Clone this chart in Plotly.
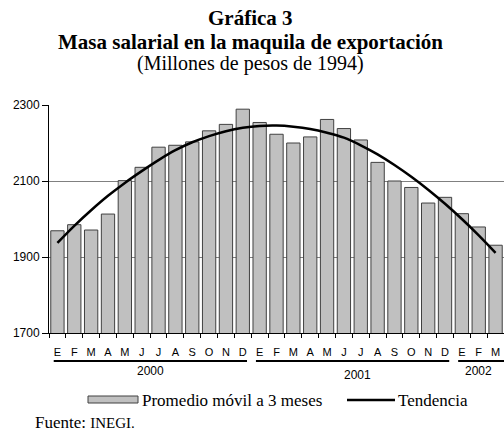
import plotly.graph_objects as go

# ---- data ----
months = ["E", "F", "M", "A", "M", "J", "J", "A", "S", "O", "N", "D",
          "E", "F", "M", "A", "M", "J", "J", "A", "S", "O", "N", "D",
          "E", "F", "M"]
years = [2000] * 12 + [2001] * 12 + [2002] * 3
promedio = [1969, 1985, 1971, 2013, 2101, 2136, 2189, 2194, 2203, 2232, 2249, 2289,
            2254, 2223, 2200, 2216, 2262, 2238, 2208, 2149, 2100, 2083, 2042, 2057,
            2014, 1979, 1931]
tendencia = [1937, 1982, 2023, 2061, 2095, 2126, 2155, 2181, 2202, 2218, 2231, 2240,
             2245, 2246, 2243, 2237, 2227, 2214, 2194, 2170, 2142, 2111, 2077, 2040,
             2000, 1957, 1911]
y_ticks = [1700, 1900, 2100, 2300]

W, H = 504, 433
L, R, T, B = 49, 504, 105, 333


def px(x):
    return (x - L) / (R - L)


def py(y):
    return (B - y) / (B - T)


idx = list(range(len(months)))
SERIF = "Liberation Serif, Times New Roman, serif"
SANS = "Liberation Sans, Arial, sans-serif"

fig = go.Figure()
fig.add_trace(go.Bar(x=idx, y=promedio, marker=dict(color="#c0c0c0",
                     line=dict(color="#404040", width=1)), showlegend=False))
fig.add_trace(go.Scatter(x=idx, y=tendencia, mode="lines", line=dict(color="black", width=2.5, shape="spline"),
                         showlegend=False))

fig.update_layout(
    width=W, height=H,
    margin=dict(l=L, r=W - R, t=T, b=H - B),
    paper_bgcolor="white", plot_bgcolor="white",
    bargap=0.21,
    font=dict(family=SANS, color="black"),
)
fig.update_yaxes(range=[1700, 2300], tickvals=y_ticks, showgrid=True, gridcolor="#808080", gridwidth=1,
                 showline=True, linecolor="black", linewidth=1, ticks="outside", ticklen=6,
                 tickcolor="black", tickfont=dict(family=SANS, size=12, color="black"), zeroline=False)
fig.update_xaxes(range=[-0.5, len(months) - 0.5], tickvals=idx, ticktext=months, showgrid=False,
                 showline=True, linecolor="black", linewidth=1, ticks="outside", ticklen=9,
                 tickcolor="rgba(0,0,0,0)", tickfont=dict(family=SANS, size=11, color="black"),
                 zeroline=False,
                 minor=dict(tickvals=[i - 0.5 for i in idx] + [len(months) - 0.5], ticks="outside",
                            ticklen=4, tickcolor="black", showgrid=False))

# year underlines and labels
shapes = []
annotations = []
groups = []
for i, yv in enumerate(years):
    if not groups or groups[-1][0] != yv:
        groups.append([yv, i, i])
    else:
        groups[-1][2] = i
label_y = {2000: 370.5, 2001: 375, 2002: 370.5}
for k, (yv, a, b) in enumerate(groups):
    x0 = a - 0.22
    x1 = b + 0.25 if k < len(groups) - 1 else len(months) - 0.5
    shapes.append(dict(type="line", xref="x", yref="paper", x0=x0, x1=x1, y0=py(361), y1=py(361),
                       line=dict(color="black", width=2)))
    annotations.append(dict(xref="x", yref="paper", x=(a + b) / 2 + (0.3 if k == 1 else 0), y=py(label_y[yv]),
                            text=str(yv), showarrow=False, xanchor="center", yanchor="middle",
                            font=dict(family=SANS, size=12, color="black")))

# titles
for text, yc, bold, size in [("Gráfica 3", 18, True, 21),
                             ("Masa salarial en la maquila de exportación", 41.5, True, 21),
                             ("(Millones de pesos de 1994)", 63, False, 20)]:
    annotations.append(dict(xref="paper", yref="paper", x=px(250), y=py(yc), showarrow=False,
                            text=f"<b>{text}</b>" if bold else text, xanchor="center", yanchor="middle",
                            font=dict(family=SERIF, size=size, color="black")))

# legend
shapes.append(dict(type="rect", xref="paper", yref="paper", x0=px(88), x1=px(138), y0=py(403), y1=py(396),
                   fillcolor="#c0c0c0", line=dict(color="#404040", width=1)))
shapes.append(dict(type="line", xref="paper", yref="paper", x0=px(347), x1=px(395), y0=py(400), y1=py(400),
                   line=dict(color="black", width=2.5)))
annotations.append(dict(xref="paper", yref="paper", x=px(140), y=py(400), showarrow=False,
                        text="Promedio móvil a 3 meses", xanchor="left", yanchor="middle",
                        font=dict(family=SERIF, size=17, color="black")))
annotations.append(dict(xref="paper", yref="paper", x=px(396), y=py(400), showarrow=False,
                        text="Tendencia", xanchor="left", yanchor="middle",
                        font=dict(family=SERIF, size=17, color="black")))
annotations.append(dict(xref="paper", yref="paper", x=px(33), y=py(422), showarrow=False,
                        text="Fuente: <span style='font-size:15px'>INEGI.</span>", xanchor="left",
                        yanchor="middle", font=dict(family=SERIF, size=17, color="black")))

fig.update_layout(shapes=shapes, annotations=annotations)
fig.write_html("out.html", config={"displayModeBar": False},
               post_script="document.body.style.margin='0';document.body.style.overflow='hidden';")
